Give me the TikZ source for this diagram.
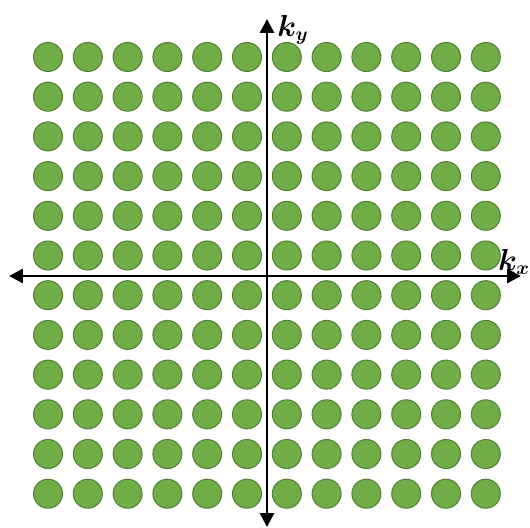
\documentclass[tikz,border=0pt]{standalone}
\usepackage{amsmath,amssymb,bm}
\usetikzlibrary{arrows.meta}
\definecolor{leafgreen}{HTML}{70AD47}
\definecolor{leafedge}{HTML}{548235}

\begin{document}
\begin{tikzpicture}[x=0.02cm, y=-0.02cm, >={Triangle[length=0.28cm, width=0.28cm]}, dot/.style = {circle, draw=leafedge, fill=leafgreen, line width=0.6pt, minimum size=0.58cm, inner sep=0pt}, axis/.style = {<->, line width=1.7pt}, axlabel/.style = {inner sep=0pt, font=\fontsize{16}{18}\selectfont}]
\useasboundingbox (0,0) rectangle (530,527);

% lattice of states
\foreach \i in {0,...,11}
  \foreach \j in {0,...,11}
    \node[dot] (d\i-\j) at (48+39.8*\i, 57+39.7*\j) {};

% axes
\coordinate (xl) at (9,276);
\coordinate (xr) at (521,276);
\coordinate (yb) at (267,527);
\coordinate (yt) at (267,19);
\draw[axis] (xl) -- (xr);
\draw[axis] (yb) -- (yt);

\node[axlabel] (ky) at (293,30) {$\bm{k_y}$};
\node[axlabel] (kx) at (514,262) {$\bm{k_x}$};
\end{tikzpicture}
\end{document}
